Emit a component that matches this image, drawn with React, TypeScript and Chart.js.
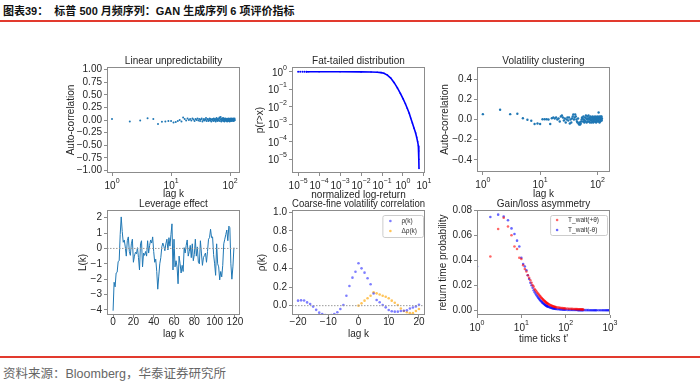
import React, { useEffect, useRef } from 'react';
import { Chart, registerables } from 'chart.js';
Chart.register(...registerables);

const FONT = "'Liberation Sans', Arial, Helvetica, sans-serif";
const TXT = '#262626';
const FRAME = '#8c8c8c';
const MPL_BLUE = '#1f77b4';

// ---------- Panel 1: Linear unpredictability ----------
const lagsAcf = Array.from({ length: 120 }, (_, i) => i + 1);
const linAcf = [
  0.02, -0.03, -0.01, 0.035, 0.02, -0.08, -0.035, -0.03, -0.02, -0.02,
  -0.05, -0.04, -0.02, 0.0, -0.03, 0.05, 0.02, -0.01, 0.03, 0.0,
  0.02, -0.01, 0.03, 0.01, -0.02, 0.02, 0.0, 0.03, -0.01, 0.02,
  -0.02, 0.01, 0.03, -0.03, 0.0, 0.02, -0.01, 0.01, 0.04, -0.02,
  0.01, 0.02, -0.02, 0.0, 0.03, -0.01, 0.02, -0.03, 0.01, 0.0,
  0.02, -0.02, 0.03, 0.01, -0.01, 0.02, -0.03, 0.0, 0.04, 0.01,
  -0.02, 0.02, 0.0, -0.01, 0.03, 0.05, -0.02, 0.01, 0.06, 0.02,
  -0.03, 0.0, 0.03, -0.01, 0.02, 0.04, -0.02, 0.01, 0.03, -0.03,
  0.0, 0.02, -0.01, 0.03, 0.01, -0.02, 0.02, 0.0, -0.03, 0.01,
  0.02, -0.01, 0.03, 0.0, -0.02, 0.01, 0.02, -0.03, 0.0, 0.03,
  0.01, -0.02, 0.02, 0.0, -0.01, 0.03, -0.02, 0.01, 0.0, 0.02,
  -0.01, 0.01, 0.03, -0.02, 0.0, 0.02, 0.01, -0.01, 0.03, 0.0,
];
const acfTicks = [-1, -0.75, -0.5, -0.25, 0, 0.25, 0.5, 0.75, 1];

// ---------- Panel 2: Fat-tailed distribution ----------
const fatX = [1e-5, 1.25e-5, 1.6e-5, 2e-5, 2.5e-5, 3.2e-5, 1e-4, 1e-3, 1e-2, 0.03, 0.059, 0.09, 0.123, 0.18, 0.26, 0.38, 0.54, 0.75, 1.0, 1.3, 1.61, 2.0, 2.33, 2.8, 3.37, 4.0, 4.5, 5.0, 5.4, 5.6, 5.75, 5.8];
const fatY = [1, 1, 1, 1, 1, 1, 1, 0.999, 0.99, 0.97, 0.95, 0.9, 0.83, 0.65, 0.44, 0.24, 0.12, 0.058, 0.029, 0.015, 0.008, 0.0042, 0.0023, 0.0012, 0.0006, 0.00032, 0.00018, 0.0001, 0.00006, 0.00003, 0.00001, 0.000003];
const fatXTicks = [1e-5, 1e-4, 1e-3, 1e-2, 1e-1, 1, 10];
const fatYTicks = [1e-5, 1e-4, 1e-3, 1e-2, 1e-1, 1];

// ---------- Panel 3: Volatility clustering ----------
const volAcf = [
  0.053, 0.097, 0.053, 0.057, 0.013, -0.003, -0.013, -0.045, -0.04, -0.045,
  0.003, 0.003, 0.003, 0.0, -0.045, 0.013, 0.02, 0.01, 0.02, 0.0,
  0.01, -0.02, 0.03, 0.04, 0.02, -0.01, 0.01, -0.03, 0.0, 0.02,
  -0.01, 0.02, -0.04, 0.0, -0.03, 0.01, 0.03, 0.05, 0.0, 0.02,
  0.05, 0.03, 0.0, -0.02, -0.03, 0.01, -0.04, -0.05, -0.03, -0.05,
  -0.04, -0.02, 0.0, 0.02, 0.01, -0.02, 0.03, 0.0, -0.03, -0.01,
  0.02, -0.02, 0.04, 0.01, -0.03, 0.0, 0.03, -0.02, 0.01, 0.04,
  -0.02, 0.0, 0.02, -0.03, 0.01, 0.03, -0.01, 0.0, -0.03, 0.02,
  0.0, -0.02, 0.03, 0.01, -0.03, -0.01, 0.02, 0.0, -0.02, 0.01,
  0.03, -0.02, 0.0, 0.01, -0.03, 0.02, -0.01, 0.0, 0.03, -0.02,
  0.01, -0.01, 0.02, 0.0, 0.07, -0.02, 0.03, 0.01, -0.03, 0.0,
  0.02, -0.02, 0.01, 0.03, -0.01, 0.02, 0.0, 0.03, -0.01, 0.01,
];
const volTicks = [-0.4, -0.2, 0, 0.2, 0.4];
const lagLogTicks = [1, 10, 100];

// ---------- Panel 4: Leverage effect ----------
const levLags = Array.from({ length: 120 }, (_, i) => i);
const levValues = [
  -4.05, -2.2, -2.5, -1.6, -1.55, -0.85, -0.8, 0.9, 2.05, 1.1,
  0.4, 0.55, 0.1, -0.5, 0.5, 0.75, -0.2, -0.45, 0.3, 0.6,
  -0.9, -0.5, -0.25, -0.35, 0.05, -0.6, -1.4, 0.3, 0.5, -1.2,
  -0.3, -0.45, -0.2, -0.5, 0.5, -0.3, 0.2, 0.55, 0.35, 0.75,
  -0.2, -0.9, -0.7, -1.5, -2.65, -1.8, -1.0, -0.6, 0.1, 0.35,
  0.15, -0.15, 0.3, 0.6, -0.1, 0.7, 0.15, 0.9, 1.6, -1.4,
  0.6, -1.2, -0.8, -1.2, -2.3, -0.5, -1.0, -1.6, -1.1, -1.5,
  0.05, -0.3, 0.2, 0.55, -0.5, -0.2, 0.2, -0.6, 0.3, -0.8,
  -0.4, 0.6, -0.5, 0.1, -0.9, -1.0, 0.5, -0.3, -1.1, -0.6,
  -0.45, -0.3, -0.9, -0.2, 0.6, 0.7, 1.25, 0.7, 0.75, -0.4,
  -1.0, -1.75, 0.3, -1.0, -1.2, -2.05, -1.5, -1.85, -1.1, 0.3,
  0.6, 0.9, 1.2, 0.5, 1.45, 1.35, -1.0, -2.0, -1.2, 0.05,
];
const levXTicks = [0, 20, 40, 60, 80, 100, 120];
const levYTicks = [-4, -3, -2, -1, 0, 1, 2];

// ---------- Panel 5: Coarse-fine volatility correlation ----------
const cfLags = Array.from({ length: 41 }, (_, i) => i - 20);
const rhoValues = [
  0.054, 0.057, 0.056, 0.035, 0.018, -0.01, -0.045, -0.075, -0.09, -0.1,
  -0.105, -0.1, -0.09, -0.07, -0.036, 0.007, 0.107, 0.21, 0.3, 0.364,
  0.454, 0.4, 0.354, 0.293, 0.23, 0.13, 0.06, 0.036, 0.007, -0.018, -0.046,
  -0.06, -0.064, -0.064, -0.057, -0.055, -0.05, -0.03, -0.02, -0.008, 0.01,
];
const dRhoLags = Array.from({ length: 21 }, (_, i) => i);
const dRhoValues = [
  0.0, 0.025, 0.054, 0.08, 0.107, 0.143, 0.132, 0.12, 0.107, 0.096, 0.08,
  0.054, 0.032, 0.007, -0.03, -0.057, -0.07, -0.08, -0.08, -0.057, -0.036,
];
const cfXTicks = [-20, -10, 0, 10, 20];
const cfYTicks = [0, 0.2, 0.4, 0.6, 0.8, 1.0];

// ---------- Panel 6: Gain/loss asymmetry ----------
const waitTimes = [
  1, 2, 3, 4, 5, 6, 7, 8, 9, 10, 11, 12, 13, 14, 15, 16, 17, 18, 19, 20,
  21, 22, 23, 24, 25, 26, 27, 28, 29, 30, 31, 32, 33, 34, 35, 36, 37, 38, 39, 40,
  42, 44, 46, 48, 50, 52, 54, 56, 58, 60,
  65, 70, 75, 80, 85, 90, 95, 100,
  110, 120, 130, 140, 150, 160, 170, 180, 190, 200, 210, 220, 230, 240, 250,
  275, 300, 325, 350, 375, 400, 425, 450, 475, 500,
  550, 600, 650, 700, 750, 800, 850, 900, 950, 1000,
];
const gainProb = [
  0.017, 0.043, 0.065, 0.074, 0.067, 0.06, 0.051, 0.049, 0.042, 0.041,
  0.036, 0.033, 0.031, 0.028, 0.026, 0.024, 0.022, 0.02, 0.019, 0.017,
  0.016, 0.015, 0.014, 0.0132, 0.0124, 0.0116, 0.0109, 0.0102, 0.0096, 0.009,
  0.0085, 0.008, 0.0075, 0.0071, 0.0067, 0.0063, 0.006, 0.0057, 0.0054, 0.0051,
  0.0047, 0.0043, 0.004, 0.0037, 0.0034, 0.0032, 0.003, 0.0028, 0.0026, 0.0025,
  0.0023, 0.0021, 0.002, 0.0018, 0.0017, 0.0016, 0.0015, 0.0014,
  0.0013, 0.0012, 0.0011, 0.0011, 0.001, 0.001, 0.0009, 0.0009, 0.0008, 0.0008, 0.0008, 0.0007, 0.0007, 0.0007, 0.0006,
];
const lossProb = [
  0.035, 0.0746, 0.0765, 0.075, 0.072, 0.0655, 0.061, 0.0557, 0.051, 0.042,
  0.037, 0.035, 0.032, 0.028, 0.025, 0.022, 0.02, 0.018, 0.016, 0.0145,
  0.0132, 0.012, 0.011, 0.0101, 0.0093, 0.0085, 0.0078, 0.0072, 0.0066, 0.0061,
  0.0056, 0.0052, 0.0048, 0.0044, 0.0041, 0.0038, 0.0035, 0.0033, 0.0031, 0.0029,
  0.0026, 0.0023, 0.0021, 0.0019, 0.0017, 0.0015, 0.0014, 0.0013, 0.0012, 0.0011,
  0.0009, 0.0008, 0.0007, 0.0006, 0.0005, 0.0005, 0.0004, 0.0004,
  0.0003, 0.0003, 0.0003, 0.0002, 0.0002, 0.0002, 0.0002, 0.0002, 0.0001, 0.0001, 0.0001, 0.0001, 0.0001, 0.0001, 0.0001,
  0.0001, 0.0001, 0.0001, 0, 0, 0, 0, 0, 0, 0,
  0, 0, 0, 0, 0, 0, 0, 0, 0, 0,
];
const waitXTicks = [1, 10, 100, 1000];
const waitYTicks = [0, 0.02, 0.04, 0.06, 0.08];

// ---------- helpers ----------
const minus = (s: string) => s.replace('-', '\u2212');
const fmt2 = (v: number) => minus(v.toFixed(2));
const fmt1 = (v: number) => minus(v.toFixed(1));
const fmt0 = (v: number) => minus(v.toFixed(0));

const framePlugin = {
  id: 'frame',
  afterDraw(chart: any) {
    const { ctx, chartArea: a } = chart;
    ctx.save();
    ctx.strokeStyle = FRAME;
    ctx.lineWidth = 1;
    const l = Math.round(a.left) + 0.5;
    const t = Math.round(a.top) + 0.5;
    const r = Math.round(a.right) - 0.5;
    const b = Math.round(a.bottom) - 0.5;
    ctx.strokeRect(l, t, r - l, b - t);
    ctx.restore();
  },
};

const supTicks = {
  id: 'supTicks',
  afterDraw(chart: any, _a: any, opts: any) {
    const axes: string[] = (opts && opts.axes) || [];
    const ctx = chart.ctx;
    ctx.save();
    ctx.fillStyle = TXT;
    ctx.textBaseline = 'middle';
    ctx.textAlign = 'left';
    for (const id of axes) {
      const s = chart.scales[id];
      for (const t of s.ticks) {
        const e = Math.round(Math.log10(t.value));
        const es = (e < 0 ? '\u2212' : '') + Math.abs(e);
        const p = s.getPixelForValue(t.value);
        ctx.font = `10px ${FONT}`;
        const w1 = ctx.measureText('10').width;
        ctx.font = `7px ${FONT}`;
        const w2 = ctx.measureText(es).width;
        let x0: number, yb: number;
        if (s.isHorizontal()) {
          x0 = p - (w1 + w2) / 2;
          yb = s.top + 13;
        } else {
          x0 = s.right - 5 - w1 - w2;
          yb = p + 1;
        }
        ctx.font = `10px ${FONT}`;
        ctx.fillText('10', x0, yb);
        ctx.font = `7px ${FONT}`;
        ctx.fillText(es, x0 + w1, yb - 5);
      }
    }
    ctx.restore();
  },
};

const innerLegend = {
  id: 'innerLegend',
  afterDraw(chart: any, _a: any, opts: any) {
    if (!opts || !opts.show) return;
    const ds = chart.data.datasets.filter((d: any) => d.label);
    const ctx = chart.ctx;
    const a = chart.chartArea;
    ctx.save();
    ctx.font = `${opts.fontSize}px ${FONT}`;
    const tw = Math.max(...ds.map((d: any) => ctx.measureText(d.label).width));
    const w = opts.textX + tw + opts.padR;
    const h = ds.length * opts.rowH + opts.padV * 2;
    const x = a.right - opts.right - w;
    const y = a.top + opts.top;
    ctx.fillStyle = 'rgba(255,255,255,0.9)';
    ctx.strokeStyle = '#cccccc';
    ctx.lineWidth = 1;
    ctx.beginPath();
    if (ctx.roundRect) ctx.roundRect(x + 0.5, y + 0.5, w, h, 2);
    else ctx.rect(x + 0.5, y + 0.5, w, h);
    ctx.fill();
    ctx.stroke();
    ctx.textBaseline = 'middle';
    ctx.textAlign = 'left';
    ds.forEach((d: any, i: number) => {
      const cy = y + opts.padV + opts.rowH * (i + 0.5);
      ctx.fillStyle = d.backgroundColor;
      ctx.beginPath();
      ctx.arc(x + opts.markerX, cy, 1.3, 0, Math.PI * 2);
      ctx.fill();
      ctx.fillStyle = '#333333';
      ctx.fillText(d.label, x + opts.textX, cy);
    });
    ctx.restore();
  },
};

function mkScale(pos: 'x' | 'y', o: any) {
  const isX = pos === 'x';
  return {
    type: o.type,
    position: isX ? 'bottom' : 'left',
    min: o.min,
    max: o.max,
    afterBuildTicks: (s: any) => {
      s.ticks = o.ticks.map((v: number) => ({ value: v }));
    },
    afterFit: (s: any) => {
      if (isX) s.height = o.size;
      else s.width = o.size;
      s.paddingLeft = 0;
      s.paddingRight = 0;
      s.paddingTop = 0;
      s.paddingBottom = 0;
    },
    ticks: {
      callback: (v: any) => (o.fmt ? o.fmt(Number(v)) : ''),
      color: TXT,
      font: { family: FONT, size: 10, lineHeight: 1 },
      padding: isX ? -1 : 2,
      maxRotation: 0,
      minRotation: 0,
      autoSkip: false,
    },
    grid: { display: true, drawOnChartArea: false, drawTicks: true, tickLength: 3, color: FRAME, lineWidth: 1 },
    border: { display: false },
    title: {
      display: true,
      text: o.title,
      color: TXT,
      font: { family: FONT, size: 10, lineHeight: 1.2 },
      padding: { top: 2, bottom: 0 },
    },
  };
}

const TITLE_H = 11;
const PAD_R = 16;

type PanelDef = {
  box: [number, number, number, number];
  yOff: number;
  xOff: number;
  title: string;
  x: any;
  y: any;
  datasets: any[];
  supAxes?: string[];
  legend?: any;
};

const pts = (xs: number[], ys: number[]) => ys.map((y, i) => ({ x: xs[i], y }));
const dot = (color: string, r: number) => ({
  backgroundColor: color,
  borderColor: color,
  pointRadius: r,
  pointBorderWidth: 0,
  borderWidth: 0,
});

const PANELS: PanelDef[] = [
  {
    box: [107, 67, 240, 173], yOff: 36, xOff: 21,
    title: 'Linear unpredictability',
    x: { type: 'logarithmic', min: 0.822, max: 147, ticks: lagLogTicks, title: 'lag k' },
    y: { type: 'linear', min: -1.05, max: 1.05, ticks: acfTicks, fmt: fmt2, title: 'Auto-correlation' },
    datasets: [{ data: pts(lagsAcf, linAcf), ...dot(MPL_BLUE, 1) }],
    supAxes: ['x'],
  },
  {
    box: [292, 67, 425, 173], yOff: 32, xOff: 22,
    title: 'Fat-tailed distribution',
    x: { type: 'logarithmic', min: 5.1e-6, max: 11.2, ticks: fatXTicks, title: 'normalized log-return' },
    y: { type: 'logarithmic', min: 1.66e-6, max: 1.88, ticks: fatYTicks, title: 'p(r>x)' },
    datasets: [
      { data: pts(fatX.slice(0, 5), fatY.slice(0, 5)), ...dot('#0000ff', 1) },
      { data: pts(fatX.slice(4), fatY.slice(4)), showLine: true, backgroundColor: '#0000ff', borderColor: '#0000ff', borderWidth: 1.6, pointRadius: 0.8, pointBorderWidth: 0 },
    ],
    supAxes: ['x', 'y'],
  },
  {
    box: [477, 67, 610, 172], yOff: 32, xOff: 22,
    title: 'Volatility clustering',
    x: { type: 'logarithmic', min: 0.79, max: 166, ticks: lagLogTicks, title: 'lag k' },
    y: { type: 'linear', min: -0.52, max: 0.52, ticks: volTicks, fmt: fmt1, title: 'Auto-correlation' },
    datasets: [{ data: pts(lagsAcf, volAcf), ...dot(MPL_BLUE, 1.2) }],
    supAxes: ['x'],
  },
  {
    box: [107, 210, 240, 315], yOff: 24, xOff: 19,
    title: 'Leverage effect',
    x: { type: 'linear', min: -6, max: 125, ticks: levXTicks, fmt: fmt0, title: 'lag k' },
    y: { type: 'linear', min: -4.33, max: 2.5, ticks: levYTicks, fmt: fmt0, title: 'L(k)' },
    datasets: [
      { data: [{ x: -6, y: 0 }, { x: 125, y: 0 }], showLine: true, borderColor: '#9a9a9a', borderWidth: 1, borderDash: [1.5, 1.5], pointRadius: 0 },
      { data: pts(levLags, levValues), showLine: true, borderColor: MPL_BLUE, borderWidth: 1, pointRadius: 0 },
    ],
  },
  {
    box: [292, 210, 425, 315], yOff: 30, xOff: 19,
    title: 'Coarse-fine volatility correlation',
    x: { type: 'linear', min: -22, max: 22, ticks: cfXTicks, fmt: fmt0, title: 'lag k' },
    y: { type: 'linear', min: -0.1, max: 1.025, ticks: cfYTicks, fmt: fmt1, title: 'ρ(k)' },
    datasets: [
      { data: [{ x: -22, y: 0 }, { x: 22, y: 0 }], showLine: true, borderColor: '#9a9a9a', borderWidth: 1, borderDash: [1.5, 1.5], pointRadius: 0 },
      { label: 'ρ(k)', data: pts(cfLags, rhoValues), ...dot('rgba(40,40,255,0.6)', 1.3) },
      { label: 'Δρ(k)', data: pts(dRhoLags, dRhoValues), ...dot('rgba(255,165,0,0.65)', 1.3) },
    ],
    legend: { show: true, right: 2, top: 5, markerX: 8, textX: 19, padR: 6, rowH: 10, padV: 1, fontSize: 6.5 },
  },
  {
    box: [477, 210, 610, 315], yOff: 34, xOff: 24,
    title: 'Gain/loss asymmetry',
    x: { type: 'logarithmic', min: 1, max: 1000, ticks: waitXTicks, title: "time ticks t'" },
    y: { type: 'linear', min: -0.0038, max: 0.0802, ticks: waitYTicks, fmt: fmt2, title: 'return time probability' },
    datasets: [
      { label: 'T_wait(+θ)', data: pts(waitTimes, gainProb), ...dot('rgba(255,0,0,0.6)', 1.3) },
      { label: 'T_wait(-θ)', data: pts(waitTimes, lossProb), ...dot('rgba(0,0,255,0.6)', 1.3) },
    ],
    supAxes: ['x'],
    legend: { show: true, right: 3, top: 5, markerX: 7, textX: 18, padR: 8, rowH: 10, padV: 0, fontSize: 6.5 },
  },
];

function geom(p: PanelDef) {
  const [L, T, R, B] = p.box;
  const ly = p.yOff + 8;
  const lx = p.xOff + 6;
  return { left: L - ly, top: T - TITLE_H, width: ly + (R - L) + PAD_R, height: TITLE_H + (B - T) + lx, ly, lx };
}

function Panel({ def }: { def: PanelDef }) {
  const ref = useRef<HTMLCanvasElement>(null);
  const g = geom(def);
  useEffect(() => {
    const chart = new Chart(ref.current as HTMLCanvasElement, {
      type: 'scatter',
      data: { datasets: def.datasets },
      options: {
        responsive: false,
        maintainAspectRatio: false,
        animation: false,
        events: [],
        layout: { padding: { top: 0, right: PAD_R, bottom: 0, left: 0 } },
        scales: {
          x: mkScale('x', { ...def.x, size: g.lx }),
          y: mkScale('y', { ...def.y, size: g.ly }),
        },
        plugins: {
          legend: { display: false },
          tooltip: { enabled: false },
          title: {
            display: true,
            text: def.title,
            color: TXT,
            font: { family: FONT, size: 10, lineHeight: 1.1, weight: 'normal' },
            padding: 0,
            fullSize: false,
          },
          supTicks: { axes: def.supAxes || [] },
          innerLegend: def.legend || { show: false },
        },
      } as any,
      plugins: [framePlugin, supTicks, innerLegend],
    } as any);
    return () => chart.destroy();
  }, []);
  return (
    <canvas
      ref={ref}
      width={g.width}
      height={g.height}
      style={{ position: 'absolute', left: g.left, top: g.top, width: g.width, height: g.height }}
    />
  );
}

export default function App() {
  return (
    <div style={{ position: 'fixed', left: 0, top: 0, width: 700, height: 384, background: '#ffffff', overflow: 'hidden' }}>
      <div
        style={{
          position: 'absolute', left: 3, top: 3, fontSize: 11, lineHeight: '16px', fontWeight: 'bold',
          color: '#111111', whiteSpace: 'pre', fontFamily: "'Liberation Sans', 'Noto Sans CJK SC', sans-serif",
        }}
      >
        {'图表39：  标普 500 月频序列：GAN 生成序列 6 项评价指标'}
      </div>
      <div style={{ position: 'absolute', left: 0, top: 20, width: 700, height: 2, background: '#e23a2e' }} />
      {PANELS.map((p) => (
        <Panel key={p.title} def={p} />
      ))}
      <div style={{ position: 'absolute', left: 0, top: 356, width: 700, height: 1.5, background: '#e23a2e' }} />
      <div
        style={{
          position: 'absolute', left: 3, top: 366, fontSize: 12.5, lineHeight: '16px', color: '#666666',
          whiteSpace: 'pre', fontFamily: "'Liberation Sans', 'Noto Sans CJK SC', sans-serif",
        }}
      >
        {'资料来源：Bloomberg，华泰证券研究所'}
      </div>
    </div>
  );
}
